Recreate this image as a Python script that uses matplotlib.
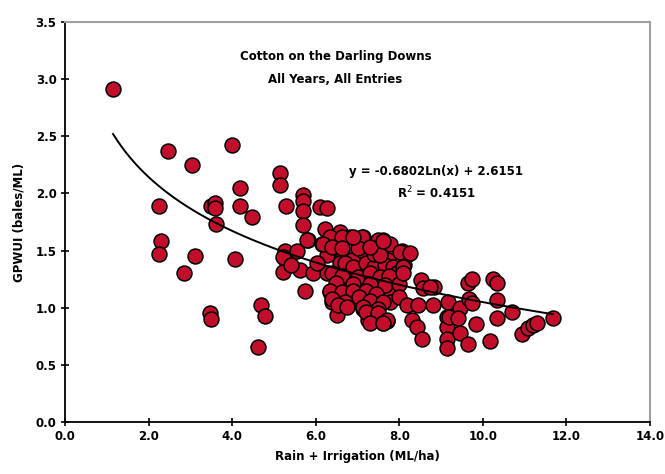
import matplotlib
matplotlib.use("Agg")
import matplotlib.pyplot as plt
import numpy as np

plt.rcParams['font.family'] = ['DejaVu Sans']

# Data points (Rain + Irrigation ML/ha, GPWUI bales/ML)
rain_irrigation = [
    1.15, 2.47, 3.03, 3.99, 2.26, 2.30, 2.26, 2.85, 3.11, 3.49, 3.59, 3.59, 3.61,
    4.19, 4.18, 4.47, 4.08, 3.48, 3.50, 4.70, 4.79, 4.63,
    5.14, 5.14, 5.30, 5.70, 5.70, 5.70, 5.70, 6.10, 6.26, 5.82, 5.26, 5.55, 5.31,
    5.22, 5.62, 5.93, 5.79, 5.74, 6.50, 5.21, 5.40,
    6.22, 6.58, 6.82, 7.14, 7.62, 6.34,
    6.14, 6.30, 6.62, 6.62, 6.86, 7.10, 7.14, 7.50, 7.58, 7.78, 7.74,
    6.26, 6.58, 6.66, 6.98, 7.26, 7.50, 7.70, 7.94,
    6.34, 6.62, 6.86, 7.18, 7.46, 7.70,
    6.38, 6.70, 7.14, 7.46, 7.78, 7.26, 7.50, 7.70, 6.82,
    6.28, 6.02, 6.69, 6.89, 7.20, 7.40, 7.65, 7.86, 7.95, 6.38, 6.64, 7.00, 7.30,
    7.55, 7.75, 6.48, 6.89, 7.30, 7.65, 8.00, 6.33, 6.64, 6.89, 7.20, 7.45,
    6.38, 6.69, 7.04, 7.30, 7.60, 8.00, 6.53, 6.74, 7.14, 7.50, 7.20, 7.50,
    7.30, 7.60, 6.18, 6.38, 6.64, 7.00, 7.40, 7.55, 7.30, 6.89, 7.60,
    8.21, 8.06, 8.11, 8.02, 8.26, 8.09, 8.09,
    8.52, 8.57, 8.82, 8.73, 8.18, 8.45, 8.80, 8.30, 8.42, 8.54, 7.70, 7.60,
    9.16, 9.45, 9.14, 9.14, 9.14, 9.14, 9.18, 9.40, 9.45, 9.64,
    9.64, 9.74, 9.68, 9.74, 9.83, 10.17, 10.24, 10.34, 10.34, 10.34,
    10.70, 10.94, 11.08, 11.20, 11.29, 11.67,
]
gpwui = [
    2.91, 2.37, 2.25, 2.42, 1.89, 1.58, 1.47, 1.30, 1.45, 1.89, 1.92, 1.87, 1.73,
    2.05, 1.89, 1.79, 1.43, 0.95, 0.90, 1.02, 0.93, 0.66,
    2.18, 2.07, 1.89, 1.99, 1.93, 1.85, 1.72, 1.88, 1.87, 1.59, 1.50, 1.50, 1.39,
    1.31, 1.33, 1.30, 1.59, 1.15, 0.94, 1.44, 1.37,
    1.69, 1.66, 1.62, 1.62, 1.59, 1.62,
    1.56, 1.48, 1.62, 1.50, 1.42, 1.62, 1.50, 1.59, 1.45, 1.56, 1.42,
    1.30, 1.39, 1.27, 1.33, 1.30, 1.33, 1.24, 1.30,
    1.14, 1.15, 1.18, 1.14, 1.18, 1.15,
    1.05, 1.02, 0.99, 1.01, 1.05, 0.89, 0.89, 0.88, 1.08,
    1.46, 1.39, 1.39, 1.36, 1.39, 1.36, 1.37, 1.36, 1.30, 1.30, 1.28, 1.27, 1.30,
    1.27, 1.28, 1.22, 1.21, 1.21, 1.20, 1.21, 1.15, 1.14, 1.15, 1.15, 1.12,
    1.08, 1.05, 1.09, 1.06, 1.05, 1.09, 1.02, 1.01, 1.01, 0.99, 0.96, 0.95,
    0.87, 0.87, 1.56, 1.53, 1.52, 1.52, 1.47, 1.46, 1.53, 1.62, 1.58,
    1.47, 1.50, 1.37, 1.49, 1.48, 1.36, 1.30,
    1.24, 1.17, 1.18, 1.18, 1.02, 1.02, 1.02, 0.89, 0.83, 0.73, 0.89, 0.87,
    1.05, 1.00, 0.92, 0.83, 0.73, 0.65, 0.92, 0.91, 0.78, 0.68,
    1.22, 1.25, 1.08, 1.04, 0.86, 0.71, 1.25, 1.22, 1.07, 0.91,
    0.96, 0.77, 0.82, 0.85, 0.87, 0.91,
]

# Trendline coefficients as shown on the chart
coef_a = -0.6802
coef_b = 2.6151
r_squared = 0.4151

x_ticks = [0, 2, 4, 6, 8, 10, 12, 14]
y_ticks = [0.0, 0.5, 1.0, 1.5, 2.0, 2.5, 3.0, 3.5]

FS = 8.5

fig = plt.figure(figsize=(6.65, 4.74), dpi=100)
ax = fig.add_axes([65/665, 1 - 422/474, (650-65)/665, (422-22)/474])

ax.scatter(rain_irrigation, gpwui, s=115, c='#C20E2A', edgecolors='black',
           linewidths=1.1, zorder=3)

xs = np.linspace(min(rain_irrigation), max(rain_irrigation), 200)
ax.plot(xs, coef_a*np.log(xs) + coef_b, color='black', lw=1.4, zorder=4)

ax.set_xlim(0, 14)
ax.set_ylim(0, 3.5)
ax.set_xticks(x_ticks)
ax.set_xticklabels([f"{v:.1f}" for v in x_ticks])
ax.set_yticks(y_ticks)
ax.set_yticklabels([f"{v:.1f}" for v in y_ticks])
ax.tick_params(direction='inout', length=6, width=1.2, labelsize=FS, pad=3)
for lab in ax.get_xticklabels() + ax.get_yticklabels():
    lab.set_fontweight('bold')

for s in ['left', 'bottom']:
    ax.spines[s].set_color('black')
    ax.spines[s].set_linewidth(1.3)
for s in ['top', 'right']:
    ax.spines[s].set_color('#A0A0A0')
    ax.spines[s].set_linewidth(1.5)

ax.set_xlabel('Rain + Irrigation (ML/ha)', fontsize=FS, fontweight='bold', labelpad=5)
ax.set_ylabel('GPWUI (bales/ML)', fontsize=FS, fontweight='bold', labelpad=7)

ax.text(6.47, 3.20, 'Cotton on the Darling Downs', ha='center', va='center',
        fontsize=FS, fontweight='bold')
ax.text(6.47, 3.00, 'All Years, All Entries', ha='center', va='center',
        fontsize=FS, fontweight='bold')
ax.text(8.89, 2.19, f'y = {coef_a:.4f}Ln(x) + {coef_b:.4f}', ha='center', va='center',
        fontsize=FS, fontweight='bold')
ax.text(8.89, 2.00, f'R$^2$ = {r_squared:.4f}', ha='center', va='center',
        fontsize=FS, fontweight='bold')

fig.savefig('out.png', dpi=100)
